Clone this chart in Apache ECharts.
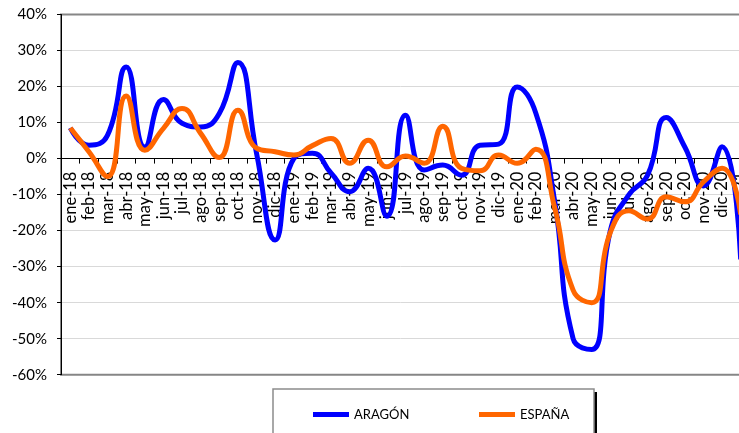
<!DOCTYPE html>
<html>
<head>
<meta charset="utf-8">
<style>
  html, body { margin: 0; padding: 0; background: #fff; }
  #chart { width: 739px; height: 433px; }
</style>
<script src="https://cdn.jsdelivr.net/npm/echarts@6/dist/echarts.min.js"></script>
</head>
<body>
<div id="chart"></div>
<script>
// meses (ene-18 .. ene-21)
const months = [
  'ene-18', 'feb-18', 'mar-18', 'abr-18', 'may-18', 'jun-18', 'jul-18', 'ago-18', 'sep-18', 'oct-18', 'nov-18', 'dic-18',
  'ene-19', 'feb-19', 'mar-19', 'abr-19', 'may-19', 'jun-19', 'jul-19', 'ago-19', 'sep-19', 'oct-19', 'nov-19', 'dic-19',
  'ene-20', 'feb-20', 'mar-20', 'abr-20', 'may-20', 'jun-20', 'jul-20', 'ago-20', 'sep-20', 'oct-20', 'nov-20', 'dic-20',
  'ene-21'
];

// variación interanual, en %
const aragon = [
  8.5, 3.7, 6.5, 25.4, 3.2, 16.4, 9.8, 8.8, 12.5, 26.7, 1.5, -22.6,
  0.0, 1.5, -4.0, -9.2, -2.7, -16.0, 12.0, -3.2, -1.8, -4.6, 3.7, 4.0,
  19.9, 12.6, -11.5, -50.0, -53.0, -20.0, -10.0, -4.6, 11.4, 3.2, -7.6, 3.3,
  -28.0
];
const espana = [
  8.5, 1.9, -5.0, 17.4, 2.3, 8.4, 13.9, 7.0, 0.3, 13.4, 2.9, 1.9,
  1.0, 3.6, 5.6, -1.3, 5.1, -2.3, 0.7, -1.3, 9.0, -2.7, -3.4, 1.0,
  -1.3, 2.6, -13.4, -36.5, -40.0, -20.5, -14.5, -16.8, -10.6, -12.0, -6.5, -2.7,
  -15.5
];

// eje Y
const yMin = -60;
const yMax = 40;
const yStep = 10;

const W = 739, H = 433;
const gridTop = 14.5, gridBottom = 58.3;
// el eje X va sobre el 0: se desplaza desde el borde inferior
const plotH = H - gridTop - gridBottom;
const zeroOffset = -plotH * (0 - yMin) / (yMax - yMin);

const font = 'Lato';
const chart = echarts.init(document.getElementById('chart'));

const option = {
  backgroundColor: '#ffffff',
  animation: false,
  grid: {
    left: 61,
    top: gridTop,
    right: -11,
    bottom: gridBottom,
    containLabel: false,
    outerBoundsMode: 'none',
    show: true,
    borderColor: '#868686',
    borderWidth: 2
  },
  xAxis: {
    type: 'category',
    data: months,
    boundaryGap: true,
    position: 'bottom',
    offset: zeroOffset,
    z: 0,
    axisLine: { onZero: false, lineStyle: { color: '#000', width: 1 } },
    axisTick: { show: true, length: 5, lineStyle: { color: '#000' } },
    axisLabel: {
      rotate: 90,
      interval: 0,
      margin: 13,
      fontFamily: font,
      fontSize: 16.5,
      color: '#000'
    },
    splitLine: { show: false }
  },
  yAxis: {
    type: 'value',
    min: yMin,
    max: yMax,
    interval: yStep,
    axisLine: { show: true, lineStyle: { color: '#000', width: 1 } },
    axisTick: { show: true, length: 4, lineStyle: { color: '#000' } },
    axisLabel: {
      formatter: '{value}%',
      margin: 14,
      fontFamily: font,
      fontSize: 15,
      color: '#000'
    },
    splitLine: {
      show: true,
      showMinLine: false,
      showMaxLine: false,
      lineStyle: { color: '#d9d9d9', width: 1 }
    }
  },
  legend: [
    {
      data: ['ARAGÓN'],
      left: 308,
      top: 403,
      icon: 'rect',
      itemWidth: 36,
      itemHeight: 5,
      textStyle: { fontFamily: font, fontSize: 13, fontWeight: 'normal', color: '#000' }
    },
    {
      data: ['ESPAÑA'],
      left: 474,
      top: 403,
      icon: 'rect',
      itemWidth: 36,
      itemHeight: 5,
      textStyle: { fontFamily: font, fontSize: 13, fontWeight: 'normal', color: '#000' }
    }
  ],
  // recuadro de la leyenda con su sombra
  graphic: [
    { type: 'rect', z: 0, shape: { x: 276, y: 392, width: 321, height: 60 }, style: { fill: '#000' } },
    { type: 'rect', z: 1, shape: { x: 273, y: 389, width: 321, height: 60 }, style: { fill: '#fff', stroke: '#8c8c8c', lineWidth: 1.5 } }
  ],
  series: [
    {
      name: 'ARAGÓN',
      type: 'line',
      data: aragon,
      smooth: 0.5,
      symbol: 'none',
      z: 3,
      lineStyle: { color: '#0000ff', width: 5 },
      itemStyle: { color: '#0000ff' }
    },
    {
      name: 'ESPAÑA',
      type: 'line',
      data: espana,
      smooth: 0.5,
      symbol: 'none',
      z: 4,
      lineStyle: { color: '#ff6600', width: 5 },
      itemStyle: { color: '#ff6600' }
    }
  ]
};

chart.setOption(option);
</script>
</body>
</html>
